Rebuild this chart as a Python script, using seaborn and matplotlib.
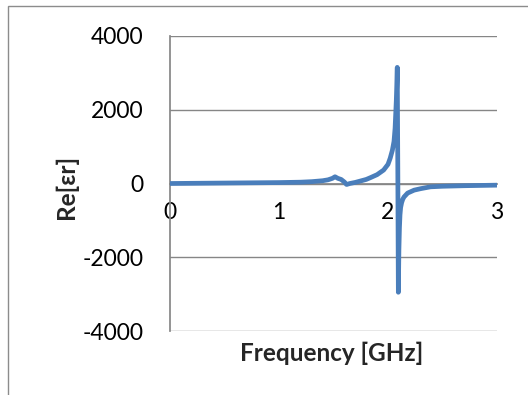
import matplotlib
matplotlib.use("Agg")
import matplotlib.pyplot as plt
import matplotlib.patches as mpatches
import seaborn as sns
import pandas as pd

# Real part of relative permittivity vs. frequency
freq_ghz = [0.0, 0.2, 0.4, 0.6, 0.8, 1.0, 1.2, 1.3, 1.4, 1.45, 1.49, 1.514,
            1.54, 1.57, 1.6, 1.62, 1.65, 1.7, 1.8, 1.84, 1.9, 1.96, 2.0,
            2.02, 2.04, 2.055, 2.065, 2.076, 2.082, 2.085, 2.09, 2.095,
            2.1, 2.105, 2.11, 2.116, 2.125, 2.135, 2.147, 2.18, 2.24, 2.3,
            2.39, 2.5, 2.7, 3.0]
re_eps = [0, 5, 10, 15, 20, 25, 36, 50, 75, 100, 140, 183,
          140, 110, 40, -27, 0, 30, 110, 160, 240, 365, 520,
          685, 900, 1140, 1500, 2240, 2800, 3150, 400, -2950,
          -1800, -1200, -850, -650, -520, -430, -365, -260, -180, -140,
          -90, -75, -60, -45]

x_ticks = [0, 1, 2, 3]
y_ticks = [-4000, -2000, 0, 2000, 4000]

df = pd.DataFrame({"Frequency [GHz]": freq_ghz, "Re[εr]": re_eps})

sns.set_theme(style="white")
plt.rcParams["font.family"] = ["Lato", "DejaVu Sans"]

fig = plt.figure(figsize=(5.28, 3.95), dpi=100)
fig.patch.set_facecolor("white")

# outer chart frame
fig.patches.append(mpatches.Rectangle((7.5 / 528, -0.1), 1.2, 1 - 5.5 / 395 + 0.1,
                                      transform=fig.transFigure, fill=False,
                                      edgecolor="#8c8c8c", linewidth=1.0))

ax = fig.add_axes([170 / 528, 1 - 331 / 395, 327 / 528, 295 / 395])

sns.lineplot(data=df, x="Frequency [GHz]", y="Re[εr]", ax=ax,
             color="#4a7ebb", linewidth=3.4, solid_capstyle="round",
             solid_joinstyle="round", sort=False, estimator=None, zorder=3)

ax.set_xlim(0, 3)
ax.set_ylim(-4000, 4000)
ax.set_xticks(x_ticks)
ax.set_yticks(y_ticks)
ax.set_xticklabels([str(v) for v in x_ticks])
ax.set_yticklabels([str(v) for v in y_ticks])

ax.yaxis.grid(True, color="#868686", linewidth=1.0)
ax.set_axisbelow(True)
for side in ("top", "right"):
    ax.spines[side].set_visible(False)
ax.spines["left"].set_color("#868686")
ax.spines["bottom"].set_position(("data", 0))
ax.spines["bottom"].set_color("#868686")

ax.tick_params(axis="both", length=0, labelsize=16.5, colors="black")
ax.tick_params(axis="y", pad=19)
ax.tick_params(axis="x", pad=13)

ax.set_xlabel("Frequency [GHz]", fontsize=17.5, fontweight="bold")
ax.set_ylabel("Re[εr]", fontsize=17.5, fontweight="bold")
ax.xaxis.set_label_coords(0.495, -0.075)
ax.xaxis.label.set_va("center")
ax.yaxis.set_label_coords(-0.318, 0.488)
ax.yaxis.label.set_va("center")

fig.savefig("out.png", dpi=100, facecolor="white")
